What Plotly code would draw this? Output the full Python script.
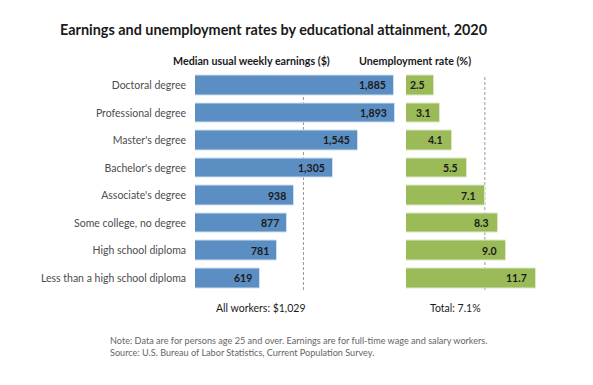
import plotly.graph_objects as go

categories = ["Doctoral degree", "Professional degree", "Master's degree", "Bachelor's degree",
              "Associate's degree", "Some college, no degree", "High school diploma",
              "Less than a high school diploma"]
earnings = [1885, 1893, 1545, 1305, 938, 877, 781, 619]
unemployment = [2.5, 3.1, 4.1, 5.5, 7.1, 8.3, 9.0, 11.7]
all_workers = 1029
total_rate = 7.1

W, H = 593, 385
FONT = "Lato"
BLUE = "#5B8EC2"
GREEN = "#9BBB59"

def px(x):
    return x / W

def py(y):
    return 1 - y / H

fig = go.Figure()

fig.add_trace(go.Bar(
    x=earnings, y=categories, orientation="h", xaxis="x", yaxis="y",
    marker=dict(color=BLUE, line=dict(color="#D0DFF0", width=1)),
    width=0.71, hoverinfo="x+y", showlegend=False,
))
fig.add_trace(go.Bar(
    x=unemployment, y=categories, orientation="h", xaxis="x2", yaxis="y",
    marker=dict(color=GREEN, line=dict(color="#DCE8C6", width=1)),
    width=0.71, hoverinfo="x+y", showlegend=False,
))

annotations = []
for c, v in zip(categories, earnings):
    annotations.append(dict(x=v, y=c, xref="x", yref="y", text=f"<b>{v:,}</b>",
                            showarrow=False, xanchor="right", xshift=-6,
                            font=dict(family=FONT, size=10.5, color="#1A1A1A")))
for c, v in zip(categories, unemployment):
    annotations.append(dict(x=v, y=c, xref="x2", yref="y", text=f"<b>{v:.1f}</b>",
                            showarrow=False, xanchor="right", xshift=-7,
                            font=dict(family=FONT, size=10.5, color="#1A1A1A")))

annotations += [
    dict(x=px(273.5), y=py(29), xref="paper", yref="paper",
         text="<b>Earnings and unemployment rates by educational attainment, 2020</b>",
         showarrow=False, xanchor="center", yanchor="middle",
         font=dict(family=FONT, size=14.4, color="#1A1A1A")),
    dict(x=px(251), y=py(60), xref="paper", yref="paper",
         text="<b>Median usual weekly earnings ($)</b>",
         showarrow=False, xanchor="center", yanchor="middle",
         font=dict(family=FONT, size=10.7, color="#1A1A1A")),
    dict(x=px(415), y=py(60), xref="paper", yref="paper",
         text="<b>Unemployment rate (%)</b>",
         showarrow=False, xanchor="center", yanchor="middle",
         font=dict(family=FONT, size=10.7, color="#1A1A1A")),
    dict(x=all_workers, y=py(308), xref="x", yref="paper",
         text=f"All workers: ${all_workers:,}", xshift=-42,
         showarrow=False, xanchor="center", yanchor="middle",
         font=dict(family=FONT, size=10.5, color="#1A1A1A")),
    dict(x=total_rate, y=py(308), xref="x2", yref="paper",
         text=f"Total: {total_rate}%", xshift=-29,
         showarrow=False, xanchor="center", yanchor="middle",
         font=dict(family=FONT, size=10.5, color="#1A1A1A")),
    dict(x=px(108), y=py(346), xref="paper", yref="paper",
         text="Note: Data are for persons age 25 and over. Earnings are for full-time wage and salary workers.<br>"
              "Source: U.S. Bureau of Labor Statistics, Current Population Survey.",
         showarrow=False, xanchor="left", yanchor="middle", align="left",
         font=dict(family=FONT, size=9.15, color="#666666")),
]

shapes = [
    dict(type="line", xref="x", yref="y", x0=all_workers, x1=all_workers, y0=-0.3, y1=7.65,
         line=dict(color="#9A9A9A", width=1, dash="3px,2px"), layer="below"),
    dict(type="line", xref="x2", yref="y", x0=total_rate, x1=total_rate, y0=-0.3, y1=7.65,
         line=dict(color="#9A9A9A", width=1, dash="3px,2px"), layer="below"),
]

fig.update_layout(
    width=W, height=H,
    margin=dict(l=0, r=0, t=0, b=0),
    paper_bgcolor="white", plot_bgcolor="rgba(0,0,0,0)",
    bargap=0,
    xaxis=dict(domain=[px(195), px(395.3)], range=[0, 1900], visible=False, fixedrange=True),
    xaxis2=dict(domain=[px(406), px(539.3)], range=[0, 12], visible=False, fixedrange=True),
    yaxis=dict(domain=[py(292), py(71.5)], range=[7.5, -0.5], type="category",
               anchor="x", showgrid=False, zeroline=False, showline=False, ticks="",
               ticklabelstandoff=8, fixedrange=True,
               tickfont=dict(family=FONT, size=10.5, color="#4D4D4D")),
    annotations=annotations,
    shapes=shapes,
    font=dict(family=FONT),
)

fig.write_html("out.html", config={"displayModeBar": False},
               post_script="document.body.style.margin='0';document.body.style.overflow='hidden';")
